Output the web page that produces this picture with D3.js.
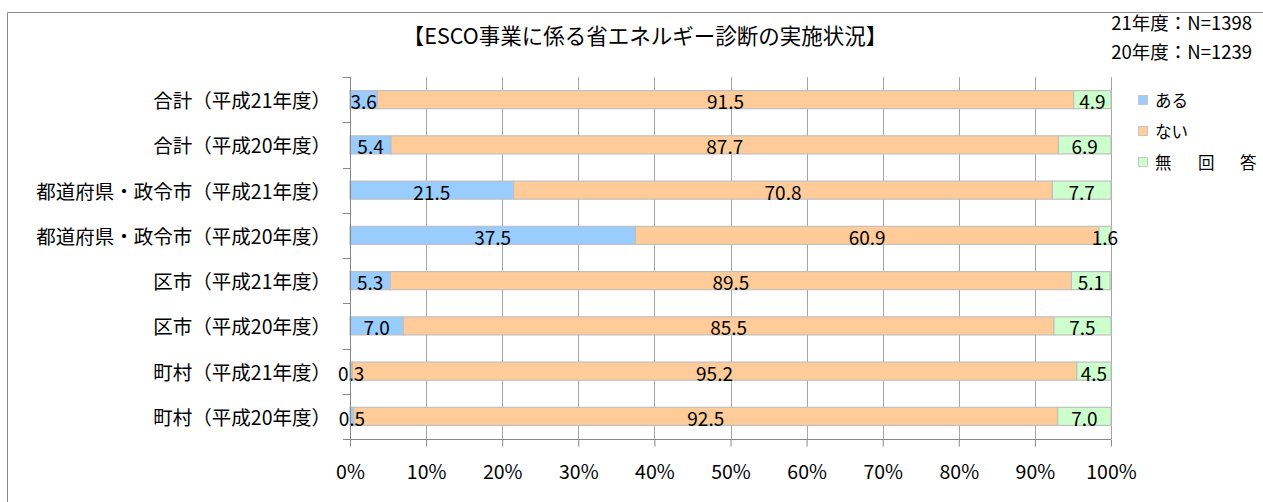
<!DOCTYPE html>
<html><head><meta charset="utf-8">
<script src="https://cdn.jsdelivr.net/npm/d3@7"></script>
<style>
html,body{margin:0;padding:0;background:#fff;}
svg{display:block;}
text{font-family:"Noto Sans CJK JP","Noto Sans",sans-serif;fill:#000;}
</style></head><body>
<svg id="c" width="1263" height="502"></svg>
<script>
const categories = ["合計（平成21年度）","合計（平成20年度）","都道府県・政令市（平成21年度）","都道府県・政令市（平成20年度）","区市（平成21年度）","区市（平成20年度）","町村（平成21年度）","町村（平成20年度）"];
const seriesNames = ["ある","ない","無回答"];
const aru  = [3.6, 5.4, 21.5, 37.5, 5.3, 7.0, 0.3, 0.5];
const nai  = [91.5, 87.7, 70.8, 60.9, 89.5, 85.5, 95.2, 92.5];
const mukaitou = [4.9, 6.9, 7.7, 1.6, 5.1, 7.5, 4.5, 7.0];
const xTicks = [0,10,20,30,40,50,60,70,80,90,100];
const colors = ["#99ccff","#ffcc99","#ccffcc"];
const title = "【ESCO事業に係る省エネルギー診断の実施状況】";
const notes = ["21年度：N=1398","20年度：N=1239"];

const svg = d3.select("#c");
svg.append("path").attr("d","M7.5,502 L7.5,12.5 L1263,12.5").attr("fill","none").attr("stroke","#888").attr("stroke-width",1);

const x = d3.scaleLinear().domain([0,100]).range([350,1111]);
const y = d3.scaleBand().domain(categories).range([77,439]).paddingInner(0.6).paddingOuter(0.3);

svg.append("g").selectAll("line").data(xTicks.slice(1)).join("line")
  .attr("x1",d=>Math.round(x(d))+0.5).attr("x2",d=>Math.round(x(d))+0.5).attr("y1",77).attr("y2",439)
  .attr("stroke","#a6a6a6").attr("stroke-width",1);

const data = categories.map((c,i)=>({c, v:[aru[i],nai[i],mukaitou[i]]}));
const stacks = [];
data.forEach(d=>{ let s=0; d.v.forEach((v,k)=>{ stacks.push({c:d.c,k,v,x0:s,x1:s+v}); s+=v; }); });

svg.append("g").selectAll("rect").data(stacks).join("rect")
  .attr("x",d=>x(d.x0)).attr("width",d=>x(d.x1)-x(d.x0))
  .attr("y",d=>y(d.c)).attr("height",y.bandwidth())
  .attr("fill",d=>colors[d.k]).attr("stroke","#c0c0c0").attr("stroke-width",1.2);

svg.append("g").selectAll("text").data(stacks).join("text")
  .attr("x",d=>(x(d.x0)+x(d.x1))/2).attr("y",d=>y(d.c)+y.bandwidth()/2+1)
  .attr("text-anchor","middle").attr("dominant-baseline","central")
  .attr("font-size",19).text(d=>d.v.toFixed(1));

const yAxisG = svg.append("g");
yAxisG.append("line").attr("x1",350.5).attr("x2",350.5).attr("y1",77).attr("y2",439).attr("stroke","#888");
const bounds = d3.range(categories.length+1).map(i=>77+i*(362/categories.length));
yAxisG.selectAll("line.t").data(bounds).join("line").attr("class","t")
  .attr("x1",343).attr("x2",350).attr("y1",d=>Math.round(d)+0.5).attr("y2",d=>Math.round(d)+0.5).attr("stroke","#888");
yAxisG.selectAll("text").data(categories).join("text")
  .attr("x",331).attr("y",d=>y(d)+y.bandwidth()/2)
  .attr("text-anchor","end").attr("dominant-baseline","central")
  .attr("font-size",19.5).text(d=>d);

const xAxis = d3.axisBottom(x).tickValues(xTicks).tickSize(7).tickFormat(d=>d+"%");
const xg = svg.append("g").attr("transform","translate(0,439.5)").call(xAxis);
xg.select(".domain").attr("stroke","#888").attr("d","M343,0H1111");
xg.selectAll(".tick line").attr("stroke","#888");
xg.selectAll(".tick text").attr("font-size",19.5).attr("dy",0).attr("y",39).attr("font-family","\"Noto Sans CJK JP\",sans-serif").attr("fill","#000");

svg.append("text").attr("x",645).attr("y",34).attr("text-anchor","middle").attr("dominant-baseline","central")
  .attr("font-size",21.5).text(title);
svg.append("g").selectAll("text").data(notes).join("text")
  .attr("x",1252).attr("y",(d,i)=>22+i*29).attr("text-anchor","end").attr("dominant-baseline","central")
  .attr("font-size",18.5).text(d=>d);

const lg = svg.append("g").selectAll("g").data(seriesNames).join("g")
  .attr("transform",(d,i)=>`translate(1138,${100+i*31})`);
lg.append("rect").attr("x",0.5).attr("y",-4.5).attr("width",9).attr("height",9)
  .attr("fill",(d,i)=>colors[i]).attr("stroke","#c0c0c0").attr("stroke-width",0.8);
lg.each(function(d){
  const chars = d === "無回答" ? Array.from(d) : [d];
  const gapX = d === "無回答" ? [0,43,85] : [0];
  const t = d3.select(this).append("text").attr("y",0).attr("dominant-baseline","central").attr("font-size",16.5);
  chars.forEach((ch,j)=>t.append("tspan").attr("x",17+gapX[j]).text(ch));
});
</script>
</body></html>
